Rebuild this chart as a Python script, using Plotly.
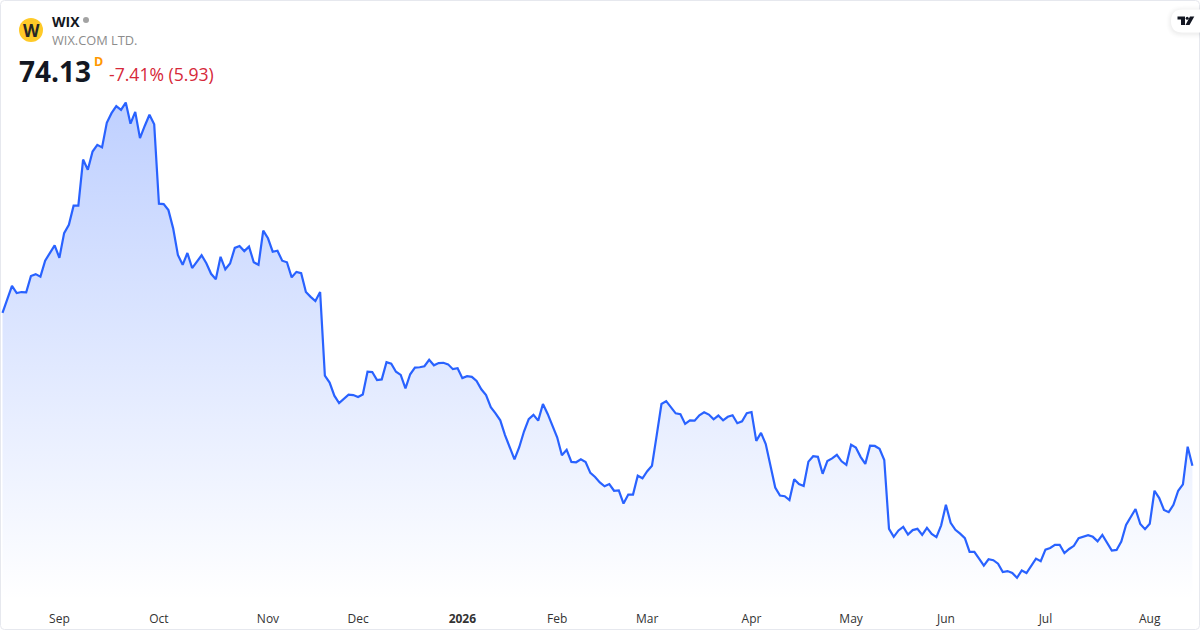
#!/usr/bin/env python3
# -*- coding: utf-8 -*-
"""WIX daily close, one year, area chart"""

import plotly.graph_objects as go

# daily closes
close_prices = [
    121.9, 125.9, 130.3, 128.1, 128.4, 128.3, 133.4, 134.0, 133.2, 138.2, 140.8, 143.0,
    139.1, 146.8, 149.4, 155.4, 155.4, 169.8, 166.6, 172.3, 174.4, 173.6, 181.3, 184.3,
    186.5, 185.3, 187.6, 181.0, 184.7, 176.5, 180.3, 183.8, 180.8, 156.0, 155.9, 154.0,
    148.3, 140.0, 136.9, 140.6, 135.9, 138.0, 139.9, 137.4, 134.1, 132.4, 139.4, 135.5,
    137.3, 142.2, 142.8, 141.2, 142.6, 137.7, 136.9, 147.6, 145.2, 141.0, 141.3, 138.2,
    137.7, 133.0, 134.7, 134.3, 128.4, 126.9, 125.6, 128.4, 102.3, 100.1, 96.0, 93.7,
    94.9, 96.3, 96.2, 95.6, 96.4, 103.5, 103.4, 100.9, 101.1, 106.5, 106.0, 103.5,
    102.5, 98.3, 102.7, 104.8, 104.9, 105.2, 107.2, 105.5, 106.2, 106.3, 105.8, 104.3,
    104.6, 101.5, 102.1, 101.9, 100.6, 98.0, 96.2, 92.4, 90.5, 88.3, 83.7, 79.8,
    76.1, 79.9, 84.8, 88.7, 90.0, 88.2, 93.4, 90.3, 86.9, 83.0, 77.4, 79.1,
    75.3, 75.2, 76.1, 75.3, 71.9, 70.6, 68.9, 67.7, 68.4, 66.3, 66.4, 62.3,
    65.1, 65.1, 71.0, 70.2, 72.4, 74.1, 83.7, 93.4, 94.3, 92.4, 90.5, 90.2,
    87.2, 88.3, 88.2, 89.9, 90.8, 90.1, 88.6, 89.8, 88.3, 89.4, 89.9, 87.4,
    88.0, 90.5, 90.9, 81.9, 84.4, 80.9, 73.8, 67.3, 64.8, 64.6, 63.4, 69.9,
    68.4, 67.8, 75.4, 77.1, 76.9, 71.6, 75.6, 76.4, 77.5, 75.5, 74.4, 80.7,
    79.8, 76.9, 74.7, 80.4, 80.3, 79.4, 75.9, 54.4, 51.9, 53.9, 55.0, 52.6,
    54.0, 54.4, 52.5, 54.7, 52.8, 51.8, 55.5, 61.9, 56.3, 54.1, 52.9, 51.5,
    47.2, 47.2, 45.1, 42.9, 44.9, 44.6, 43.5, 40.9, 41.2, 40.6, 39.1, 41.4,
    40.6, 42.9, 45.1, 44.3, 47.9, 48.4, 49.4, 49.4, 46.8, 48.1, 49.1, 51.5,
    51.9, 52.4, 51.9, 50.5, 52.5, 50.1, 47.6, 47.8, 50.4, 55.6, 58.1, 60.6,
    55.9, 54.3, 56.0, 66.3, 64.0, 60.3, 59.6, 61.9, 66.3, 68.3, 80.06, 74.13,
]
bar_index = list(range(len(close_prices)))

tick_bars = [12, 33, 56, 75, 97, 117, 136, 158, 179, 199, 220, 242]
tick_labels = ['Sep', 'Oct', 'Nov', 'Dec', '<b>2026</b>', 'Feb', 'Mar', 'Apr', 'May', 'Jun', 'Jul', 'Aug']

symbol = 'WIX'
company = 'WIX.COM LTD.'
last_price = '74.13'
change_text = '-7.41% (5.93)'

W, H, PLOT_H = 1200, 630, 600


def px(x):
    return x / W


def py(y):
    return 1 - y / PLOT_H


def pill_path(x0, y0, r):
    # white badge with a rounded left side, runs off the right edge
    return (f"M {px(W)} {py(y0)} L {px(x0 + r)} {py(y0)} "
            f"Q {px(x0)} {py(y0)} {px(x0)} {py(y0 + r)} "
            f"Q {px(x0)} {py(y0 + 2 * r)} {px(x0 + r)} {py(y0 + 2 * r)} "
            f"L {px(W)} {py(y0 + 2 * r)} Z")


def poly_path(points):
    parts = [f"{px(x)} {py(y)}" for x, y in points]
    return "M " + " L ".join(parts) + " Z"


def frame_path(r=4):
    a, b, c, d = 0.5, 0.5, W - 0.5, H - 0.5
    return (f"M {px(a + r)} {py(b)} L {px(c - r)} {py(b)} Q {px(c)} {py(b)} {px(c)} {py(b + r)} "
            f"L {px(c)} {py(d - r)} Q {px(c)} {py(d)} {px(c - r)} {py(d)} "
            f"L {px(a + r)} {py(d)} Q {px(a)} {py(d)} {px(a)} {py(d - r)} "
            f"L {px(a)} {py(b + r)} Q {px(a)} {py(b)} {px(a + r)} {py(b)} Z")


def label(x, y, text, size, color, family='Open Sans'):
    return dict(xref='paper', yref='paper', x=px(x), y=py(y), text=text, showarrow=False,
                xanchor='left', yanchor='middle', borderpad=0,
                font=dict(family=family, size=size, color=color))


fig = go.Figure()

fig.add_trace(go.Scatter(
    x=bar_index,
    y=close_prices,
    mode='lines',
    line=dict(color='#2962FF', width=2.2),
    fill='tozeroy',
    fillgradient=dict(
        type='vertical',
        start=32.2,
        stop=187.6,
        colorscale=[[0, 'rgba(41,98,255,0)'], [1, 'rgba(41,98,255,0.3)']],
    ),
    hoverinfo='skip',
))

shapes = [
    # card border
    dict(type='path', xref='paper', yref='paper', path=frame_path(),
         line=dict(color='#E6E8EE', width=1)),
    # logo and status dot
    dict(type='circle', xref='paper', yref='paper', x0=px(19), x1=px(43), y0=py(42), y1=py(18),
         fillcolor='#FFCA28', line=dict(width=0)),
    dict(type='circle', xref='paper', yref='paper', x0=px(83), x1=px(89), y0=py(23), y1=py(17),
         fillcolor='#A3A3A3', line=dict(width=0)),
]

# soft shadow under the badge
for grow, alpha in [(5, 0.006), (4, 0.008), (3, 0.01), (2, 0.012), (1, 0.015)]:
    shapes.append(dict(type='path', xref='paper', yref='paper',
                       path=pill_path(1171 - grow, 9.5 - grow + 1, 11.5 + grow),
                       fillcolor=f'rgba(0,0,0,{alpha})', line=dict(width=0)))
shapes.append(dict(type='path', xref='paper', yref='paper', path=pill_path(1171, 9.5, 11.5),
                   fillcolor='white', line=dict(width=0)))
# badge glyph
for pts in [
    [(1177.5, 16.5), (1185, 16.5), (1185, 25), (1181, 25), (1181, 19.5), (1177.5, 19.5)],
    [(1190, 16.5), (1194.3, 16.5), (1189.5, 25), (1185.5, 25)],
]:
    shapes.append(dict(type='path', xref='paper', yref='paper', path=poly_path(pts),
                       fillcolor='#131722', line=dict(width=0)))
shapes.append(dict(type='circle', xref='paper', yref='paper', x0=px(1185.7), x1=px(1188.7),
                   y0=py(19.8), y1=py(16.8), fillcolor='#131722', line=dict(width=0)))

annotations = [
    dict(xref='paper', yref='paper', x=px(31), y=py(30.5), text='<b>W</b>', showarrow=False,
         xanchor='center', yanchor='middle', borderpad=0,
         font=dict(family='Open Sans', size=17, color='#262626')),
    label(50.5, 21, f'<b>{symbol}</b>', 14, '#131722'),
    label(50.5, 40, company, 12.8, '#8C8C8C'),
    label(18, 71, f'<b>{last_price}</b>', 28, '#131722'),
    label(92.5, 61, '<b>D</b>', 12.5, '#FF9800'),
    label(107.5, 74.5, change_text, 17.6, '#D62839'),
]

fig.update_layout(
    width=W,
    height=H,
    margin=dict(l=0, r=0, t=0, b=H - PLOT_H, pad=0, autoexpand=False),
    paper_bgcolor='white',
    plot_bgcolor='white',
    showlegend=False,
    shapes=shapes,
    annotations=annotations,
    font=dict(family='Open Sans', size=12, color='#333333'),
)

fig.update_xaxes(
    range=[-0.527, 252.6],
    tickmode='array',
    tickvals=tick_bars,
    ticktext=tick_labels,
    ticks='outside',
    ticklen=8,
    tickcolor='rgba(0,0,0,0)',
    showgrid=False,
    showline=False,
    zeroline=False,
    tickfont=dict(family='Open Sans', size=12, color='#333333'),
)
fig.update_yaxes(
    range=[32.16, 219.66],
    visible=False,
    showgrid=False,
    zeroline=False,
)

fig.write_html(
    "out.html",
    config=dict(displayModeBar=False),
    post_script="document.body.style.margin='0';document.body.style.overflow='hidden';",
)
